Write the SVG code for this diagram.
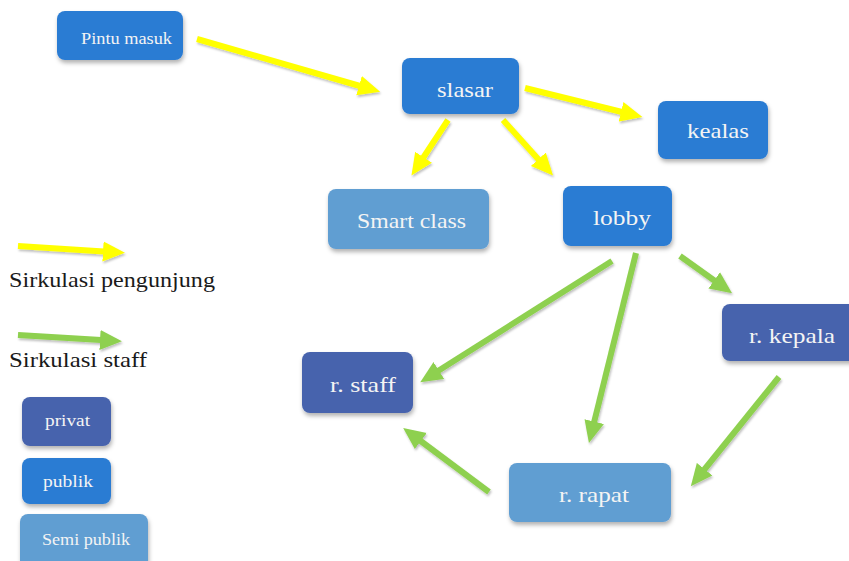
<svg xmlns="http://www.w3.org/2000/svg" width="849" height="561" viewBox="0 0 849 561">
  <style>
    .pub { fill: #2b7cd3; }
    .priv { fill: #4763ad; }
    .semi { fill: #619ed2; }
    .box { filter: url(#sh); }
    .lbl { font-family: "Liberation Serif", "DejaVu Serif", serif; font-size: 22px; fill: #f4f4f4; }
    .sm { font-family: "Liberation Serif", "DejaVu Serif", serif; font-size: 16px; fill: #f4f4f4; }
    .leg { font-family: "Liberation Serif", "DejaVu Serif", serif; font-size: 22px; fill: #1a1a1a; }
    .ya { stroke: #ffff00; stroke-width: 6; fill: none; marker-end: url(#hy); filter: url(#ash); }
    .ga { stroke: #8ed04f; stroke-width: 6; fill: none; marker-end: url(#hg); filter: url(#ash); }
  </style>
  <defs>
    <filter id="sh" x="-10%" y="-10%" width="130%" height="140%">
      <feDropShadow dx="1" dy="3" stdDeviation="2" flood-color="#000" flood-opacity="0.3"/>
    </filter>
    <filter id="ash" filterUnits="userSpaceOnUse" x="0" y="0" width="849" height="561">
      <feDropShadow dx="1" dy="2" stdDeviation="1.2" flood-color="#000" flood-opacity="0.25"/>
    </filter>
    <marker id="hy" markerUnits="userSpaceOnUse" markerWidth="24" markerHeight="22" viewBox="0 0 24 22" refX="1" refY="11" orient="auto">
      <path d="M0,1 L22,11 L0,21 z" fill="#ffff00"/>
    </marker>
    <marker id="hg" markerUnits="userSpaceOnUse" markerWidth="24" markerHeight="22" viewBox="0 0 24 22" refX="1" refY="11" orient="auto">
      <path d="M0,1 L22,11 L0,21 z" fill="#8ed04f"/>
    </marker>
  </defs>
  <rect width="849" height="561" fill="#ffffff"/>

  <g id="connectors">
    <line class="ya" x1="197" y1="39" x2="360" y2="86"/>
    <line class="ya" x1="525" y1="88" x2="622" y2="112"/>
    <line class="ya" x1="448" y1="120" x2="423" y2="158"/>
    <line class="ya" x1="503" y1="120" x2="539" y2="160"/>
    <line class="ya" x1="18" y1="246" x2="104" y2="251.5"/>
    <line class="ga" x1="18" y1="335" x2="101" y2="340"/>
    <line class="ga" x1="612" y1="261" x2="438" y2="371"/>
    <line class="ga" x1="636" y1="253" x2="594" y2="422.6"/>
    <line class="ga" x1="680" y1="256" x2="715" y2="281"/>
    <line class="ga" x1="779" y1="377" x2="704" y2="470"/>
    <line class="ga" x1="489" y1="492" x2="420" y2="440.5"/>
  </g>

  <g id="pintu-masuk">
    <rect class="box pub" x="57" y="11" width="126" height="49" rx="8"/>
    <text class="sm" x="81" y="44" textLength="91" lengthAdjust="spacingAndGlyphs">Pintu masuk</text>
  </g>
  <g id="slasar">
    <rect class="box pub" x="402" y="58" width="117" height="56" rx="8"/>
    <text class="lbl" x="437" y="97" textLength="56" lengthAdjust="spacingAndGlyphs">slasar</text>
  </g>
  <g id="kealas">
    <rect class="box pub" x="658" y="101" width="110" height="58" rx="8"/>
    <text class="lbl" x="687" y="138" textLength="62" lengthAdjust="spacingAndGlyphs">kealas</text>
  </g>
  <g id="smart-class">
    <rect class="box semi" x="328" y="189" width="161" height="60" rx="8"/>
    <text class="lbl" x="357" y="228" textLength="109" lengthAdjust="spacingAndGlyphs">Smart class</text>
  </g>
  <g id="lobby">
    <rect class="box pub" x="563" y="186" width="109" height="60" rx="8"/>
    <text class="lbl" x="593" y="225" textLength="58" lengthAdjust="spacingAndGlyphs">lobby</text>
  </g>
  <g id="r-kepala">
    <rect class="box priv" x="722" y="304" width="140" height="57" rx="8"/>
    <text class="lbl" x="749" y="343" textLength="86" lengthAdjust="spacingAndGlyphs">r. kepala</text>
  </g>
  <g id="r-staff">
    <rect class="box priv" x="302" y="352" width="111" height="61" rx="8"/>
    <text class="lbl" x="330" y="392" textLength="66" lengthAdjust="spacingAndGlyphs">r. staff</text>
  </g>
  <g id="r-rapat">
    <rect class="box semi" x="509" y="463" width="162" height="59" rx="8"/>
    <text class="lbl" x="559" y="502" textLength="70" lengthAdjust="spacingAndGlyphs">r. rapat</text>
  </g>

  <g id="legend">
    <text class="leg" x="9" y="287" textLength="206" lengthAdjust="spacingAndGlyphs">Sirkulasi pengunjung</text>
    <text class="leg" x="9" y="367" textLength="138" lengthAdjust="spacingAndGlyphs">Sirkulasi staff</text>
    <g id="legend-privat">
      <rect class="box priv" x="22" y="397" width="89" height="49" rx="8"/>
      <text class="sm" x="45" y="426" textLength="45" lengthAdjust="spacingAndGlyphs">privat</text>
    </g>
    <g id="legend-publik">
      <rect class="box pub" x="22" y="458" width="89" height="46" rx="8"/>
      <text class="sm" x="43" y="487" textLength="50" lengthAdjust="spacingAndGlyphs">publik</text>
    </g>
    <g id="legend-semi-publik">
      <rect class="box semi" x="20" y="514" width="128" height="56" rx="8"/>
      <text class="sm" x="42" y="545" textLength="88" lengthAdjust="spacingAndGlyphs">Semi publik</text>
    </g>
  </g>
</svg>
